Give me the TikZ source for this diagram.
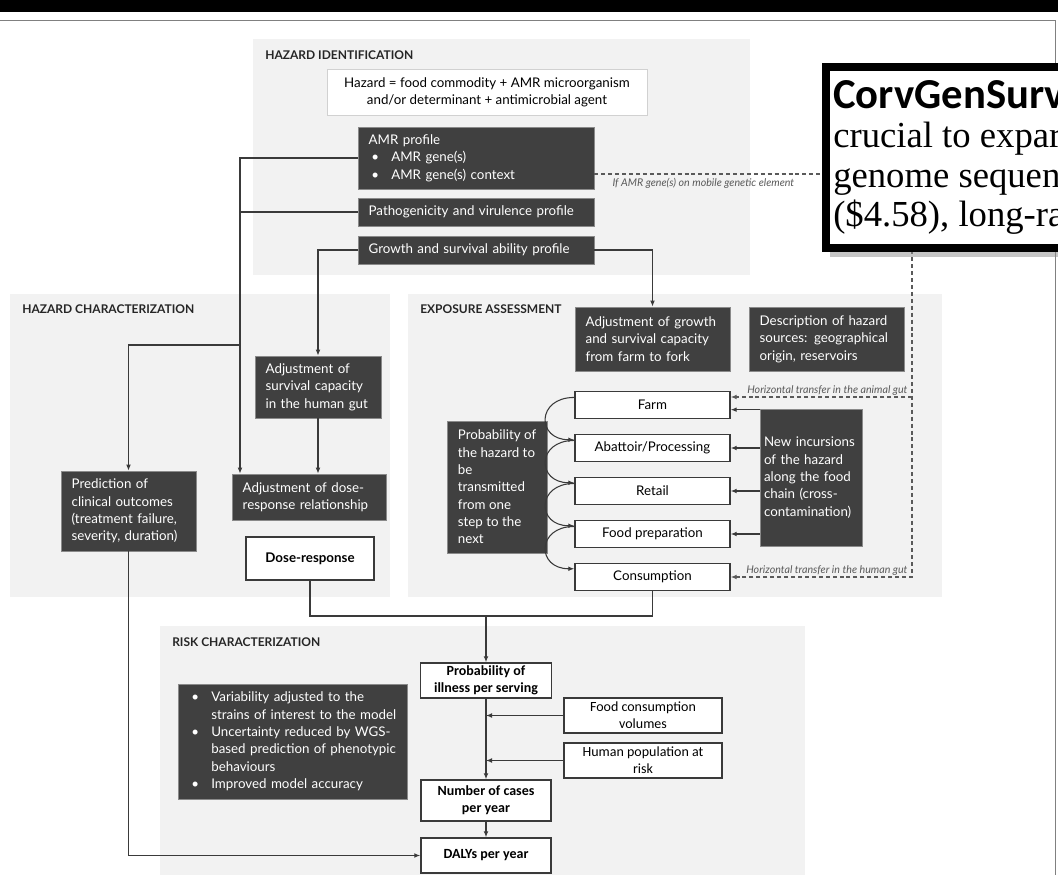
\documentclass[tikz,border=0pt]{standalone}
\usepackage{fontspec}
\setmainfont{Lato}
\newfontfamily\calibrifont{Carlito}
\newfontfamily\serifbook{Liberation Serif}
\usetikzlibrary{arrows.meta}

\definecolor{panelgray}{HTML}{F2F2F2}
\definecolor{boxdark}{HTML}{404040}
\definecolor{boxedge}{HTML}{8A8A8A}
\definecolor{linkgray}{HTML}{3A3A3A}
\definecolor{notegray}{HTML}{5A5A5A}

\newcommand{\blt}{\makebox[17pt][l]{\hspace{2pt}\textbullet}}
\newcommand{\bltgap}{\hspace*{17pt}}

\begin{document}
\begin{tikzpicture}[x=0.75pt, y=-0.75pt,
  >={Latex[length=4.5pt,width=3.6pt]},
  panel/.style={fill=panelgray},
  paneltitle/.style={anchor=west, inner sep=0pt, text=black!85, font=\bfseries\fontsize{9}{10}\selectfont},
  darkbox/.style={draw=boxedge, line width=0.6pt, fill=boxdark, text=white, align=left,
    inner xsep=8pt, inner ysep=2pt, font=\fontsize{10}{13}\selectfont},
  stepbox/.style={draw=linkgray, line width=1.1pt, fill=white, minimum width=116.25pt,
    minimum height=20.25pt, font=\fontsize{10}{13}\selectfont},
  riskbox/.style={draw=linkgray, line width=1.1pt, fill=white, align=center, inner sep=1pt,
    font=\calibrifont\fontsize{10.5}{12.75}\selectfont},
  riskbold/.style={riskbox, font=\calibrifont\bfseries\fontsize{10.5}{12.75}\selectfont},
  link/.style={draw=linkgray, line width=0.8pt},
  gutlink/.style={draw=notegray, line width=0.8pt, dash pattern=on 3pt off 2.2pt},
  gutnote/.style={font=\itshape\fontsize{8}{9}\selectfont, text=notegray, inner sep=1pt},
]
\useasboundingbox (0,0) rectangle (1058,875);
\clip (0,0) rectangle (1058,875);
\fill[white] (0,0) rectangle (1058,875);

% screen frame
\fill[black] (0,0) rectangle (1058,12);
\draw[gray, line width=1.2pt] (0,20.5) -- (1055.5,20.5) -- (1055.5,875);

% Hazard identification
\fill[panel] (253,39) rectangle (750,275);
\node[paneltitle] (hidtitle) at (265,55) {HAZARD IDENTIFICATION};
\node[draw=black!18, line width=0.6pt, fill=white, minimum width=240pt, minimum height=34.5pt,
  align=center, font=\fontsize{10}{13}\selectfont] (hazard) at (487,92)
  {Hazard = food commodity + AMR microorganism\\and/or determinant + antimicrobial agent};
\node[darkbox, text width=161pt, minimum height=46.5pt] (amr) at (476,158)
  {AMR profile\\\blt AMR gene(s)\\\blt AMR gene(s) context};
\node[darkbox, text width=161pt, minimum height=21pt] (patho) at (476,212) {Pathogenicity and virulence profile};
\node[darkbox, text width=161pt, minimum height=21pt] (growth) at (476,250) {Growth and survival ability profile};

% Hazard characterization
\fill[panel] (10,294) rectangle (390,597);
\node[paneltitle] (hchtitle) at (22,309) {HAZARD CHARACTERIZATION};
\node[darkbox, text width=78.5pt, minimum height=46.5pt] (survival) at (318,387)
  {Adjustment of\\survival capacity\\in the human gut};
\node[darkbox, text width=99.5pt, minimum height=34.5pt] (doseadj) at (309,497)
  {Adjustment of dose-\\response relationship};
\node[darkbox, text width=85.25pt, minimum height=60pt] (predict) at (128.5,511)
  {Prediction of\\clinical outcomes\\(treatment failure,\\severity, duration)};
\node[draw=linkgray, line width=1.1pt, fill=white, minimum width=96pt, minimum height=32.25pt,
  font=\bfseries\fontsize{10}{13}\selectfont] (doseresp) at (310,558.5) {Dose-response};

% Exposure assessment
\fill[panel] (408,294) rectangle (942,597);
\node[paneltitle] (exptitle) at (420,309) {EXPOSURE ASSESSMENT};
\node[darkbox, text width=100.25pt, minimum height=48pt] (adjgrowth) at (652.5,339)
  {Adjustment of growth\\and survival capacity\\from farm to fork};
\node[darkbox, text width=100.25pt, minimum height=48pt] (sources) at (826.5,339)
  {Description of hazard\\sources: geographical\\origin, reservoirs};
\foreach \name/\steptext/\yy in {farm/Farm/405, abattoir/{Abattoir/Processing}/448,
    retail/Retail/491, foodprep/Food preparation/534, consumption/Consumption/577}
  \node[stepbox] (\name) at (652.5,\yy) {\steptext};
\node[darkbox, inner xsep=4pt, minimum width=75pt, minimum height=99pt] (transmit) at (497,487)
  {Probability of\\the hazard to\\be\\transmitted\\from one\\step to the\\next};
\node[darkbox, inner xsep=3pt, text width=70.5pt, minimum height=102.75pt] (incursion) at (811,477.5)
  {New incursions\\of the hazard\\along the food\\chain (cross-\\contamination)};

% Risk characterization
\fill[panel] (160,626) rectangle (805,875);
\node[paneltitle] (risktitle) at (172,642) {RISK CHARACTERIZATION};
\node[darkbox, text width=155.75pt, minimum height=86.25pt] (riskgain) at (292.5,741.5)
  {\blt Variability adjusted to the\\\bltgap strains of interest to the model\\\blt Uncertainty reduced by WGS-\\\bltgap based prediction of phenotypic\\\bltgap behaviours\\\blt Improved model accuracy};
\node[riskbold, minimum width=98.25pt, minimum height=26.25pt] (illness) at (486,680.5)
  {Probability of\\illness per serving};
\node[riskbox, minimum width=118.5pt, minimum height=26.25pt] (foodvol) at (643,715.5)
  {Food consumption\\volumes};
\node[riskbox, minimum width=118.5pt, minimum height=26.25pt] (popatrisk) at (643,760.5)
  {Human population at\\risk};
\node[riskbold, minimum width=97.5pt, minimum height=30.75pt] (cases) at (486,800.5)
  {Number of cases\\per year};
\node[riskbold, minimum width=97.5pt, minimum height=26.25pt] (dalys) at (486,855.5) {DALYs per year};

% connectors
\coordinate (hcbus) at (240,158);
\coordinate (predsplit) at (240,345);
\draw[link,->] (amr.west) -- (hcbus) -- (hcbus |- doseadj.north);
\draw[link] (patho.west) -- (patho.west -| hcbus);
\draw[link,->] (predsplit) -| (predict.north);
\draw[link,->] (growth.west) -| (survival.north);
\draw[link,->] (survival.south) -- (survival.south |- doseadj.north);
\draw[link,->] (growth.east) -| (adjgrowth.north);
\draw[link,->] (predict.south) |- (dalys.west);
\coordinate (merge) at (486,616);
\draw[link] (doseresp.south) |- (merge) -| (consumption.south);
\draw[link,->] (merge) -- (illness.north);
\draw[link,->] (illness.south) -- (cases.north);
\draw[link,->] (foodvol.west) -- (foodvol.west -| illness.south);
\draw[link,->] (popatrisk.west) -- (popatrisk.west -| illness.south);
\draw[link,->] (cases.south) -- (dalys.north);

% food chain
\foreach \from/\to in {farm/abattoir, abattoir/retail, retail/foodprep, foodprep/consumption}
  \draw[link,->] ([yshift=-5pt]\from.north west) to[out=180, in=180, looseness=2.3] ([yshift=-4.5pt]\to.north west);
\coordinate (farmin) at ([yshift=-3.5pt]farm.east);
\draw[link,->] (incursion.west |- farmin) -- (farmin);
\foreach \st in {abattoir, retail, foodprep}
  \draw[link,->] (incursion.west |- \st.east) -- (\st.east);

% horizontal transfer
\coordinate (mgeturn) at (912,174);
\coordinate (farmgut) at ([yshift=6pt]farm.east);
\draw[gutlink] (amr.east |- mgeturn) -- (mgeturn)
  node[gutnote, pos=0.343, below=2pt] (mgenote) {If AMR gene(s) on mobile genetic element};
\draw[gutlink,->] (mgeturn) |- (consumption.east)
  node[gutnote, pos=0.5, anchor=south east, xshift=-2pt] (humangut) {Horizontal transfer in the human gut};
\draw[gutlink,->] (mgeturn |- farmgut) -- (farmgut)
  node[gutnote, pos=0, anchor=south east, xshift=-2pt] (animalgut) {Horizontal transfer in the animal gut};

% overlay
\fill[black!45, opacity=0.5] (830,72) rectangle (1070,257);
\draw[line width=6pt, fill=white] (826,67) rectangle (1075,248);
\node[anchor=north west, align=left, inner sep=0pt, font=\serifbook\fontsize{27.5}{29.6}\selectfont] (corvnote) at (833,80)
  {{\calibrifont\bfseries\fontsize{32}{29.6}\selectfont CorvGenSurv}\\crucial to expar\\genome sequen\\(\$4.58), long-ra};
\end{tikzpicture}
\end{document}
